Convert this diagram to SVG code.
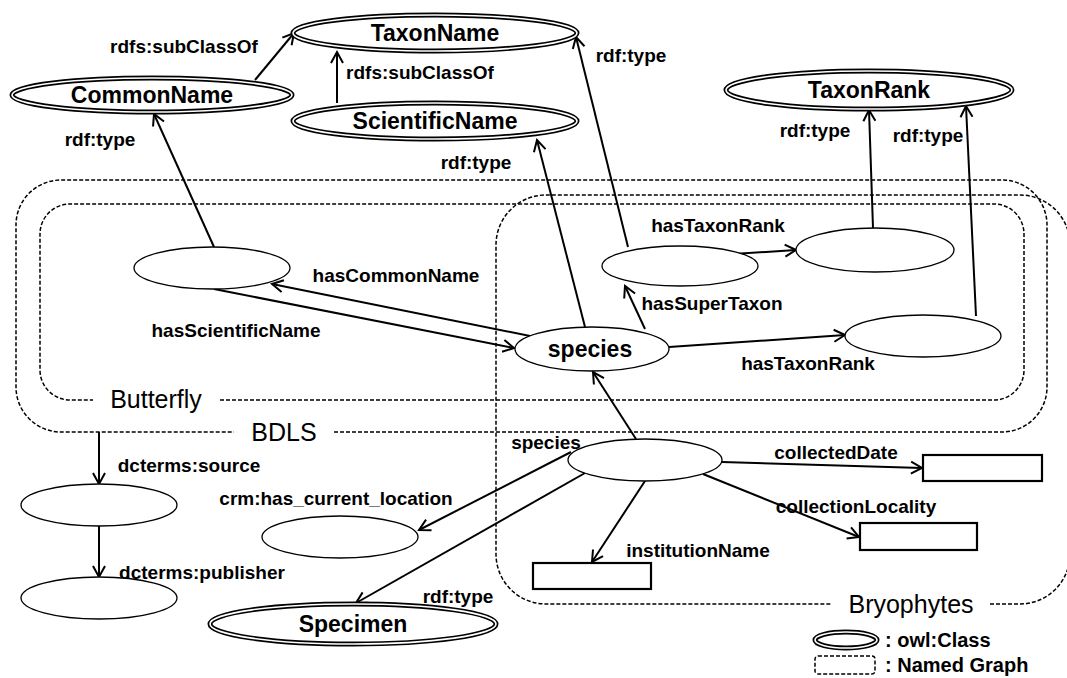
<svg xmlns="http://www.w3.org/2000/svg" width="1067" height="678" viewBox="0 0 1067 678">
<defs>
<marker id="arr" markerUnits="userSpaceOnUse" markerWidth="16" markerHeight="16" viewBox="0 0 16 16" refX="13" refY="8" orient="auto">
<path d="M2,2 L13,8 L2,14" fill="none" stroke="#000" stroke-width="2"/>
</marker>
<style>
.bg{fill:#fff}
.ng{fill:none;stroke:#000;stroke-width:1.5;stroke-dasharray:4 2}
.cls{fill:#fff;stroke:#000;stroke-width:5}
.cin{fill:none;stroke:#fff;stroke-width:1.6}
.nd{fill:#fff;stroke:#000;stroke-width:1.3}
.lit{fill:#fff;stroke:#000;stroke-width:2.2}
.e{fill:none;stroke:#000;stroke-width:2;marker-end:url(#arr)}
.lb{font-family:"Liberation Sans",Arial,sans-serif;font-weight:bold;font-size:19px;fill:#000;text-anchor:middle;dominant-baseline:central}
.cl{font-family:"Liberation Sans",Arial,sans-serif;font-weight:bold;font-size:23px;fill:#000;text-anchor:middle;dominant-baseline:central}
.gl{font-family:"Liberation Sans",Arial,sans-serif;font-size:25px;fill:#000;text-anchor:middle;dominant-baseline:central}
.lg{font-family:"Liberation Sans",Arial,sans-serif;font-weight:bold;font-size:20px;fill:#000;dominant-baseline:central}
</style>
</defs>
<rect class="bg" x="0" y="0" width="1067" height="678"/>

<g id="graph-BDLS">
<path class="ng" d="M334,432 H1002 A45,45 0 0 0 1047,387 V225 A45,45 0 0 0 1002,180 H61 A45,45 0 0 0 16,225 V387 A45,45 0 0 0 61,432 H234"/>
<text class="gl" x="284" y="432">BDLS</text>
</g>
<g id="graph-Butterfly">
<path class="ng" d="M220,400 H994 A30,30 0 0 0 1024,370 V234 A30,30 0 0 0 994,204 H70 A30,30 0 0 0 40,234 V370 A30,30 0 0 0 70,400 H93"/>
<text class="gl" x="156" y="399">Butterfly</text>
</g>
<g id="graph-Bryophytes">
<path class="ng" d="M990,604 H1020 A50,50 0 0 0 1070,554 V245 A50,50 0 0 0 1020,195 H546 A50,50 0 0 0 496,245 V554 A50,50 0 0 0 546,604 H832"/>
<text class="gl" x="911" y="604">Bryophytes</text>
</g>

<g id="connectors">
<line class="e" x1="255" y1="80" x2="294" y2="33"/>
<line class="e" x1="337" y1="103" x2="337" y2="52"/>
<line class="e" x1="214" y1="247" x2="154" y2="114"/>
<line class="e" x1="585" y1="327" x2="537" y2="140"/>
<line class="e" x1="628" y1="247" x2="576" y2="37"/>
<line class="e" x1="873" y1="228" x2="869" y2="110"/>
<line class="e" x1="976" y1="316" x2="966" y2="106"/>
<line class="e" x1="540" y1="338" x2="272" y2="284"/>
<line class="e" x1="214" y1="289" x2="514" y2="348"/>
<line class="e" x1="733" y1="254" x2="796" y2="250"/>
<line class="e" x1="645" y1="329" x2="625" y2="286"/>
<line class="e" x1="669" y1="347" x2="845" y2="335"/>
<line class="e" x1="636" y1="439" x2="593" y2="372"/>
<line class="e" x1="722" y1="462" x2="922" y2="468"/>
<line class="e" x1="703" y1="474" x2="859" y2="537"/>
<line class="e" x1="645" y1="481" x2="592" y2="562"/>
<line class="e" x1="571" y1="452" x2="419" y2="530"/>
<line class="e" x1="585" y1="473" x2="356" y2="603"/>
<line class="e" x1="99" y1="432" x2="99" y2="484"/>
<line class="e" x1="99" y1="526" x2="99" y2="577"/>
</g>

<g id="edge-labels">
<text class="lb" x="184" y="46">rdfs:subClassOf</text>
<text class="lb" x="420" y="72">rdfs:subClassOf</text>
<text class="lb" x="100" y="139">rdf:type</text>
<text class="lb" x="476" y="162">rdf:type</text>
<text class="lb" x="631" y="55">rdf:type</text>
<text class="lb" x="815" y="130">rdf:type</text>
<text class="lb" x="928" y="135">rdf:type</text>
<text class="lb" x="718" y="225">hasTaxonRank</text>
<text class="lb" x="396" y="275">hasCommonName</text>
<text class="lb" x="236" y="330">hasScientificName</text>
<text class="lb" x="712" y="303">hasSuperTaxon</text>
<text class="lb" x="808" y="363">hasTaxonRank</text>
<text class="lb" x="546" y="442">species</text>
<text class="lb" x="836" y="452">collectedDate</text>
<text class="lb" x="856" y="506">collectionLocality</text>
<text class="lb" x="698" y="550">institutionName</text>
<text class="lb" x="336" y="498">crm:has_current_location</text>
<text class="lb" x="189" y="465">dcterms:source</text>
<text class="lb" x="202" y="572">dcterms:publisher</text>
<text class="lb" x="458" y="596">rdf:type</text>
</g>

<g id="TaxonName"><ellipse class="cls" cx="435" cy="33" rx="142" ry="18"/><ellipse class="cin" cx="435" cy="33" rx="142" ry="18"/><text class="cl" x="435" y="33">TaxonName</text></g>
<g id="CommonName"><ellipse class="cls" cx="152" cy="95" rx="140" ry="17"/><ellipse class="cin" cx="152" cy="95" rx="140" ry="17"/><text class="cl" x="152" y="95">CommonName</text></g>
<g id="ScientificName"><ellipse class="cls" cx="435" cy="121" rx="142" ry="18"/><ellipse class="cin" cx="435" cy="121" rx="142" ry="18"/><text class="cl" x="435" y="121">ScientificName</text></g>
<g id="TaxonRank"><ellipse class="cls" cx="869" cy="90" rx="143" ry="19"/><ellipse class="cin" cx="869" cy="90" rx="143" ry="19"/><text class="cl" x="869" y="90">TaxonRank</text></g>
<g id="Specimen"><ellipse class="cls" cx="353" cy="624" rx="143" ry="20"/><ellipse class="cin" cx="353" cy="624" rx="143" ry="20"/><text class="cl" x="353" y="624">Specimen</text></g>

<g id="butterfly-taxon"><ellipse class="nd" cx="212" cy="268" rx="78" ry="21"/></g>
<g id="species"><ellipse class="nd" cx="592" cy="349" rx="77" ry="22"/><text class="cl" x="590" y="349">species</text></g>
<g id="super-taxon"><ellipse class="nd" cx="680" cy="266" rx="78" ry="20"/></g>
<g id="rank-1"><ellipse class="nd" cx="875" cy="250" rx="79" ry="22"/></g>
<g id="rank-2"><ellipse class="nd" cx="923" cy="336" rx="78" ry="21"/></g>
<g id="specimen-node"><ellipse class="nd" cx="645" cy="460" rx="77" ry="21"/></g>
<g id="source"><ellipse class="nd" cx="99" cy="505" rx="78" ry="21"/></g>
<g id="publisher"><ellipse class="nd" cx="99" cy="598" rx="78" ry="21"/></g>
<g id="location"><ellipse class="nd" cx="340" cy="537" rx="78" ry="21"/></g>
<g id="collectedDate-lit"><rect class="lit" x="923" y="455" width="119" height="26"/></g>
<g id="collectionLocality-lit"><rect class="lit" x="860" y="523" width="117" height="27"/></g>
<g id="institutionName-lit"><rect class="lit" x="533" y="563" width="118" height="26"/></g>

<g id="legend">
<ellipse class="cls" cx="846" cy="640" rx="31" ry="8"/><ellipse class="cin" cx="846" cy="640" rx="31" ry="8"/>
<text class="lg" x="885" y="640">: owl:Class</text>
<rect class="ng" x="815" y="656" width="60" height="18" rx="3"/>
<text class="lg" x="885" y="665">: Named Graph</text>
</g>
</svg>
